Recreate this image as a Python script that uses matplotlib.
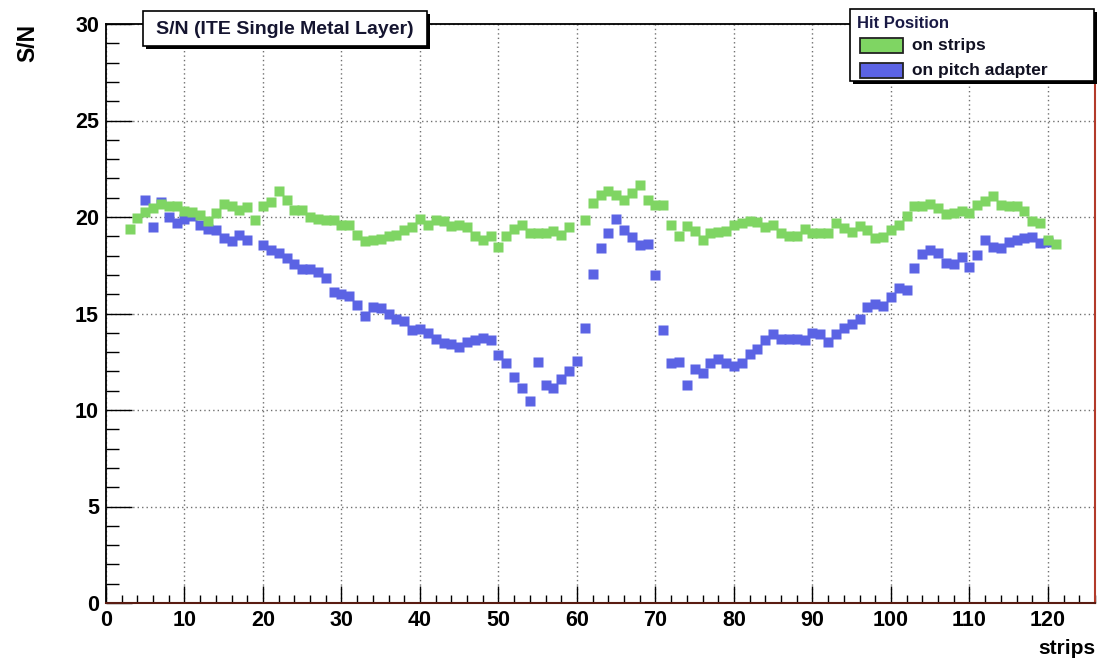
import matplotlib
matplotlib.use("Agg")
import matplotlib.pyplot as plt
from matplotlib.patches import Rectangle
from matplotlib.ticker import MultipleLocator

# ---------------- data ----------------
strips_green = [3, 4, 5, 6, 7, 8, 9, 10, 11, 12, 13, 14, 15, 16, 17, 18, 19, 20,
                21, 22, 23, 24, 25, 26, 27, 28, 29, 30, 31, 32, 33, 34, 35, 36, 37,
                38, 39, 40, 41, 42, 43, 44, 45, 46, 47, 48, 49, 50, 51, 52, 53, 54,
                55, 56, 57, 58, 59, 61, 62, 63, 64, 65, 66, 67, 68, 69, 70, 71, 72,
                73, 74, 75, 76, 77, 78, 79, 80, 81, 82, 83, 84, 85, 86, 87, 88, 89,
                90, 91, 92, 93, 94, 95, 96, 97, 98, 99, 100, 101, 102, 103, 104,
                105, 106, 107, 108, 109, 110, 111, 112, 113, 114, 115, 116, 117,
                118, 119, 120, 121]
sn_strips = [19.40, 19.95, 20.25, 20.47, 20.68, 20.56, 20.59, 20.30, 20.25, 20.12,
             19.78, 20.21, 20.68, 20.59, 20.35, 20.50, 19.87, 20.59, 20.78, 21.33,
             20.87, 20.38, 20.35, 19.99, 19.92, 19.87, 19.87, 19.61, 19.61, 19.09,
             18.74, 18.80, 18.88, 19.04, 19.09, 19.35, 19.47, 19.90, 19.61, 19.83,
             19.78, 19.52, 19.61, 19.49, 19.04, 18.80, 19.04, 18.45, 19.04, 19.38,
             19.61, 19.18, 19.18, 19.18, 19.30, 19.09, 19.49, 19.87, 20.71, 21.16,
             21.33, 21.16, 20.90, 21.25, 21.68, 20.87, 20.64, 20.64, 19.56, 19.00,
             19.52, 19.26, 18.83, 19.18, 19.23, 19.26, 19.56, 19.69, 19.78, 19.73,
             19.49, 19.61, 19.18, 19.04, 19.04, 19.38, 19.18, 19.16, 19.16, 19.69,
             19.43, 19.21, 19.52, 19.35, 18.92, 18.97, 19.35, 19.61, 20.07, 20.59,
             20.59, 20.69, 20.47, 20.17, 20.20, 20.30, 20.21, 20.64, 20.81, 21.11,
             20.64, 20.59, 20.55, 20.30, 19.80, 19.67, 18.80, 18.62]

strips_blue = [5, 6, 7, 8, 9, 10, 11, 12, 13, 14, 15, 16, 17, 18, 20, 21, 22, 23,
               24, 25, 26, 27, 28, 29, 30, 31, 32, 33, 34, 35, 36, 37, 38, 39, 40,
               41, 42, 43, 44, 45, 46, 47, 48, 49, 50, 51, 52, 53, 54, 55, 56, 57,
               58, 59, 60, 61, 62, 63, 64, 65, 66, 67, 68, 69, 70, 71, 72, 73, 74,
               75, 76, 77, 78, 79, 80, 81, 82, 83, 84, 85, 86, 87, 88, 89, 90, 91,
               92, 93, 94, 95, 96, 97, 98, 99, 100, 101, 102, 103, 104, 105, 106,
               107, 108, 109, 110, 111, 112, 113, 114, 115, 116, 117, 118, 119, 120]
sn_pitch = [20.90, 19.49, 20.78, 19.99, 19.69, 19.90, 20.04, 19.57, 19.38, 19.35,
            18.92, 18.74, 19.09, 18.83, 18.57, 18.31, 18.14, 17.88, 17.57, 17.31,
            17.28, 17.14, 16.85, 16.12, 15.99, 15.90, 15.42, 14.86, 15.35, 15.30,
            15.00, 14.73, 14.61, 14.17, 14.21, 14.00, 13.66, 13.45, 13.40, 13.28,
            13.52, 13.62, 13.74, 13.62, 12.83, 12.42, 11.73, 11.16, 10.47, 12.48,
            11.28, 11.16, 11.59, 12.02, 12.54, 14.26, 17.07, 18.40, 19.18, 19.90,
            19.35, 18.97, 18.57, 18.62, 17.02, 14.17, 12.42, 12.48, 11.28, 12.14,
            11.93, 12.42, 12.66, 12.45, 12.28, 12.45, 12.88, 13.14, 13.62, 13.92,
            13.66, 13.66, 13.69, 13.62, 14.00, 13.92, 13.52, 13.92, 14.26, 14.48,
            14.69, 15.35, 15.50, 15.40, 15.88, 16.30, 16.24, 17.37, 18.10, 18.31,
            18.12, 17.62, 17.58, 17.95, 17.40, 18.03, 18.81, 18.47, 18.38, 18.68,
            18.83, 18.92, 18.95, 18.67, 18.72]

x_ticks = [0, 10, 20, 30, 40, 50, 60, 70, 80, 90, 100, 110, 120]
y_ticks = [0, 5, 10, 15, 20, 25, 30]
title_text = "S/N (ITE Single Metal Layer)"
legend_title = "Hit Position"
label_strips = "on strips"
label_pitch = "on pitch adapter"

# ---------------- figure ----------------
W, H = 1099, 663
fig = plt.figure(figsize=(W / 100, H / 100), dpi=100)
FONT = "Liberation Sans"

def fx(px):
    return px / W

def fy(py):
    return 1 - py / H

ax_l, ax_r, ax_t, ax_b = 106, 1095, 24, 603
ax = fig.add_axes([fx(ax_l), fy(ax_b), fx(ax_r - ax_l), (ax_b - ax_t) / H])

GREEN = "#7fd563"
BLUE = "#5b63e4"

ax.plot(strips_blue, sn_pitch, linestyle="none", marker="s", ms=6.6,
        color=BLUE, mec="none", zorder=3)
ax.plot(strips_green, sn_strips, linestyle="none", marker="s", ms=6.6,
        color=GREEN, mec="none", zorder=4)

ax.set_xlim(0, 126)
ax.set_ylim(0, 30)
ax.set_xticks(x_ticks)
ax.set_yticks(y_ticks)
ax.xaxis.set_minor_locator(MultipleLocator(2))
ax.yaxis.set_minor_locator(MultipleLocator(1))
ax.tick_params(axis="x", which="major", direction="in", length=12, width=1.0,
               pad=5, top=False)
ax.tick_params(axis="x", which="minor", direction="in", length=6, width=1.0,
               top=False)
ax.tick_params(axis="y", which="major", direction="in", length=19, width=1.0,
               pad=5, right=False)
ax.tick_params(axis="y", which="minor", direction="in", length=9.5, width=1.0,
               right=False)
for lab in ax.get_xticklabels() + ax.get_yticklabels():
    lab.set_fontfamily(FONT)
    lab.set_fontweight("bold")
    lab.set_fontsize(15.5)

ax.grid(True, which="major", color="#707070", linestyle=(0, (1.0, 2.2)),
        linewidth=1.0, zorder=1)
ax.set_axisbelow(True)

for side in ("left", "top"):
    ax.spines[side].set_color("black")
    ax.spines[side].set_linewidth(1.3)
ax.spines["bottom"].set_color("#5a1c12")
ax.spines["bottom"].set_linewidth(1.5)
ax.spines["right"].set_color("#b23a2a")
ax.spines["right"].set_linewidth(1.5)

# axis titles (ROOT style)
fig.text(fx(28), fy(ax_t), "S/N", rotation=90, ha="center", va="top",
         fontfamily=FONT, fontweight="bold", fontsize=16.5)
fig.text(fx(ax_r), fy(648), "strips", ha="right", va="center",
         fontfamily=FONT, fontweight="bold", fontsize=15)

# ---------------- title pave ----------------
def pave(x0, y0, x1, y1, shadow=3):
    fig.patches.append(Rectangle((fx(x0 + shadow), fy(y1 + shadow)),
                                 fx(x1 - x0), (y1 - y0) / H,
                                 transform=fig.transFigure, facecolor="black",
                                 edgecolor="none", zorder=5))
    fig.patches.append(Rectangle((fx(x0), fy(y1)), fx(x1 - x0), (y1 - y0) / H,
                                 transform=fig.transFigure, facecolor="white",
                                 edgecolor="black", linewidth=1.2, zorder=6))

pave(143, 11, 427, 46)
fig.text(fx(285), fy(29), title_text, ha="center", va="center",
         fontfamily=FONT, fontweight="bold", fontsize=14, color="#151530",
         zorder=7)

# ---------------- legend ----------------
pave(850, 9, 1094, 81)
fig.text(fx(857), fy(23), legend_title, ha="left", va="center",
         fontfamily=FONT, fontweight="bold", fontsize=12, color="#1a1a45",
         zorder=7)
for (ytop, col, lab) in [(38, GREEN, label_strips), (63, BLUE, label_pitch)]:
    fig.patches.append(Rectangle((fx(860), fy(ytop + 15)), fx(43), 15 / H,
                                 transform=fig.transFigure, facecolor=col,
                                 edgecolor="#222222", linewidth=1.3, zorder=7))
    fig.text(fx(912), fy(ytop + 7.5), lab, ha="left", va="center",
             fontfamily=FONT, fontweight="bold", fontsize=12.5, color="#111122",
             zorder=7)

fig.savefig("out.png", dpi=100)
